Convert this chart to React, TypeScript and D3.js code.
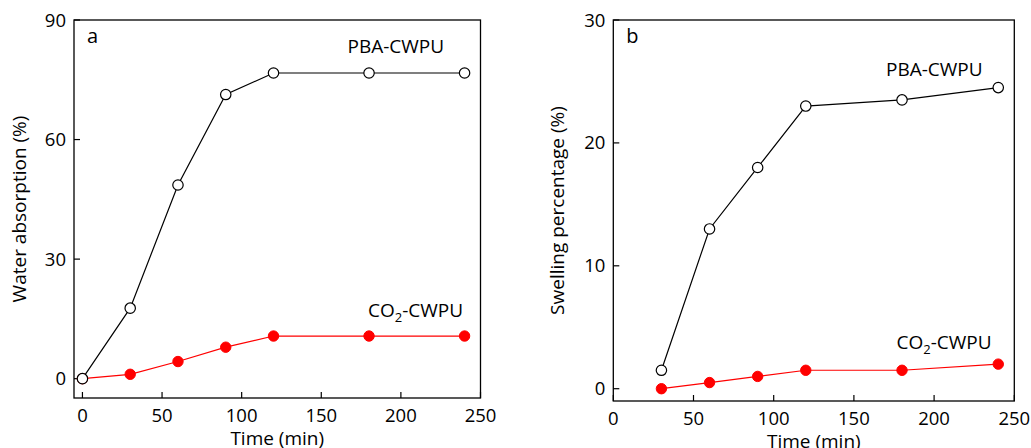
import React from "react";
import * as d3 from "d3";

const timeA = [0, 30, 60, 90, 120, 180, 240];
const pbaA = [0, 17.7, 48.6, 71.3, 76.7, 76.7, 76.7];
const co2A = [0, 1.1, 4.3, 7.9, 10.7, 10.7, 10.7];
const yTicksA = [0, 30, 60, 90];

const timeB = [30, 60, 90, 120, 180, 240];
const pbaB = [1.5, 13.0, 18.0, 23.0, 23.5, 24.5];
const co2B = [0, 0.5, 1.0, 1.5, 1.5, 2.0];
const yTicksB = [0, 10, 20, 30];

const xTicks = [0, 50, 100, 150, 200, 250];

const FONT = "'Open Sans', sans-serif";

type PanelProps = {
  left: number; right: number; top: number; bottom: number;
  xDomain: [number, number]; yDomain: [number, number];
  yTicks: number[]; time: number[]; pba: number[]; co2: number[];
  letter: string; yTitle: string; yTitleX: number;
  pbaLabel: [number, number]; co2Label: [number, number];
};

function Panel(p: PanelProps) {
  const x = d3.scaleLinear().domain(p.xDomain).range([p.left, p.right]);
  const y = d3.scaleLinear().domain(p.yDomain).range([p.bottom, p.top]);
  const line = d3.line<[number, number]>().x(d => x(d[0])).y(d => y(d[1]));
  const pbaPts: [number, number][] = p.time.map((t, i) => [t, p.pba[i]]);
  const co2Pts: [number, number][] = p.time.map((t, i) => [t, p.co2[i]]);
  const midY = (p.top + p.bottom) / 2;
  return (
    <g fontFamily={FONT} fill="#000">
      <rect x={p.left} y={p.top} width={p.right - p.left} height={p.bottom - p.top} fill="none" stroke="#000" strokeWidth={1.3} />
      {xTicks.map(t => (
        <g key={"x" + t}>
          <line x1={x(t)} x2={x(t)} y1={p.bottom} y2={p.bottom - 6} stroke="#000" strokeWidth={1.2} />
          <text x={x(t)} y={p.bottom + 24} textAnchor="middle" fontSize={18.5}>{t}</text>
        </g>
      ))}
      {p.yTicks.map(t => (
        <g key={"y" + t}>
          <line x1={p.left} x2={p.left + 6} y1={y(t)} y2={y(t)} stroke="#000" strokeWidth={1.2} />
          <text x={p.left - 8} y={y(t) + 6.5} textAnchor="end" fontSize={18.5}>{t}</text>
        </g>
      ))}
      <text x={(p.left + p.right) / 2} y={p.bottom + 47} textAnchor="middle" fontSize={19}>Time (min)</text>
      <text transform={`translate(${p.yTitleX},${midY}) rotate(-90)`} textAnchor="middle" fontSize={19}>{p.yTitle}</text>
      <text x={p.left + 13} y={p.top + 23} fontSize={20}>{p.letter}</text>
      <path d={line(pbaPts) || ""} fill="none" stroke="#000" strokeWidth={1.2} />
      <path d={line(co2Pts) || ""} fill="none" stroke="#ff0000" strokeWidth={1.2} />
      {co2Pts.map((d, i) => (
        <circle key={"c" + i} cx={x(d[0])} cy={y(d[1])} r={5.2} fill="#ff0000" stroke="#ff0000" strokeWidth={1} />
      ))}
      {pbaPts.map((d, i) => (
        <circle key={"p" + i} cx={x(d[0])} cy={y(d[1])} r={5.2} fill="#fff" stroke="#000" strokeWidth={1.2} />
      ))}
      <text x={p.pbaLabel[0]} y={p.pbaLabel[1]} fontSize={19}>PBA-CWPU</text>
      <text x={p.co2Label[0]} y={p.co2Label[1]} fontSize={19}>CO<tspan fontSize={13} dy={5}>2</tspan><tspan dy={-5}>-CWPU</tspan></text>
    </g>
  );
}

export default function App() {
  return (
    <svg width={1031} height={448} style={{ position: "absolute", left: 0, top: 0, background: "#fff" }}>
      <Panel left={74} right={480.5} top={20} bottom={398} xDomain={[-5.3, 250]} yDomain={[-4.85, 90]}
        yTicks={yTicksA} time={timeA} pba={pbaA} co2={co2A} letter="a" yTitle="Water absorption (%)" yTitleX={26}
        pbaLabel={[347.5, 53]} co2Label={[368, 317]} />
      <Panel left={613.3} right={1014.3} top={20} bottom={401} xDomain={[0, 250]} yDomain={[-1.0, 30]}
        yTicks={yTicksB} time={timeB} pba={pbaB} co2={co2B} letter="b" yTitle="Swelling percentage (%)" yTitleX={564}
        pbaLabel={[886, 76]} co2Label={[896.5, 349]} />
    </svg>
  );
}
